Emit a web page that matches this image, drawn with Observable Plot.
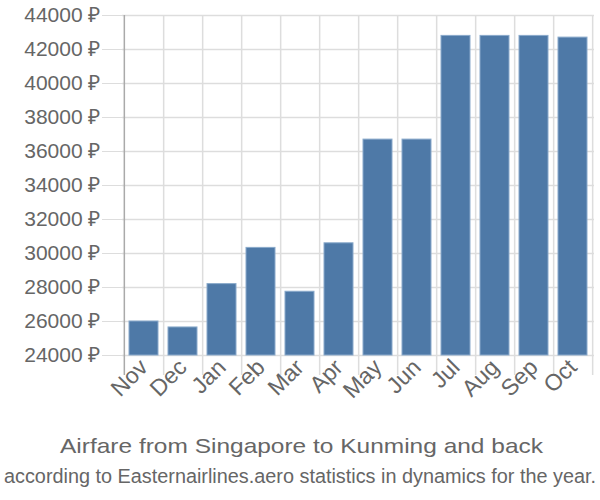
<!DOCTYPE html>
<html>
<head>
<meta charset="utf-8">
<script src="https://cdn.jsdelivr.net/npm/d3@7"></script>
<script src="https://cdn.jsdelivr.net/npm/@observablehq/plot@0.6"></script>
<style>
  body { margin: 0; background: #fff; font-family: "Liberation Sans", Arial, sans-serif; }
  #wrap { width: 600px; }
  #wrap svg { display: block; }
  g[aria-label="x-axis tick label"] { font-size: 23px !important; }
  g[aria-label="x-axis tick label"] text { font-size: 23px !important; }
  g[aria-label="y-axis tick label"] text { font-size: 21px !important; }
</style>
</head>
<body>
<div id="wrap"></div>
<script>
const months = ["Nov","Dec","Jan","Feb","Mar","Apr","May","Jun","Jul","Aug","Sep","Oct"];
const prices = [26000, 25650, 28200, 30330, 27750, 30600, 36700, 36700, 42800, 42800, 42800, 42700];
const yTicks = [24000, 26000, 28000, 30000, 32000, 34000, 36000, 38000, 40000, 42000, 44000];
const titleText = "Airfare from Singapore to Kunming and back";
const subtitleText = "according to Easternairlines.aero statistics in dynamics for the year.";

const data = months.map((m, i) => ({month: m, price: prices[i]}));
const W = 600, ML = 122, MR = 6;
const step = (W - ML - MR) / months.length;

const chart = Plot.plot({
  width: W,
  height: 420,
  marginTop: 15,
  marginLeft: ML,
  marginRight: MR,
  marginBottom: 65,
  style: {fontFamily: "'Liberation Sans', Arial, sans-serif", fontSize: "20px", color: "#666", background: "#fff"},
  x: {domain: months, padding: 0, label: null},
  y: {domain: [24000, 44000], label: null},
  marks: [
    Plot.ruleY(yTicks, {y: d => d, stroke: "#ddd", strokeWidth: 1.5, strokeOpacity: 1}),
    Plot.axisY(yTicks, {tickSize: 20, tickPadding: 2, stroke: "#ddd", strokeOpacity: 1, tickFormat: d => d + " \u20BD", fill: "#666", label: null}),
    Plot.ruleX(months, {x: d => d, dx: step / 2, y1: 44000, y2: 24000, insetBottom: -20, stroke: "#ddd", strokeWidth: 1.5}),
    Plot.ruleX([months[0]], {x: d => d, dx: -step / 2, y1: 44000, y2: 24000, insetBottom: -20, stroke: "#aaa", strokeWidth: 1.5}),
    Plot.barY(data, {x: "month", y1: 24000, y2: "price", fill: "#4e79a7", stroke: "#8aaacb", strokeWidth: 1, insetLeft: 5, insetRight: 5}),
    Plot.axisX({tickSize: 0, tickRotate: -45, tickPadding: 8, fill: "#666", label: null})
  ]
});

const wrap = document.getElementById("wrap");
wrap.appendChild(chart);

const svg = d3.select(wrap).append("svg").attr("width", 600).attr("height", 80)
  .style("font-family", "'Liberation Sans', Arial, sans-serif");
svg.append("text").attr("x", 301.5).attr("y", 33).attr("text-anchor", "middle")
  .attr("fill", "#666").attr("font-size", 21).attr("textLength", 483).attr("lengthAdjust", "spacingAndGlyphs")
  .text(titleText);
svg.append("text").attr("x", 300).attr("y", 63).attr("text-anchor", "middle")
  .attr("fill", "#666").attr("font-size", 20).attr("textLength", 592).attr("lengthAdjust", "spacingAndGlyphs")
  .text(subtitleText);
</script>
</body>
</html>
